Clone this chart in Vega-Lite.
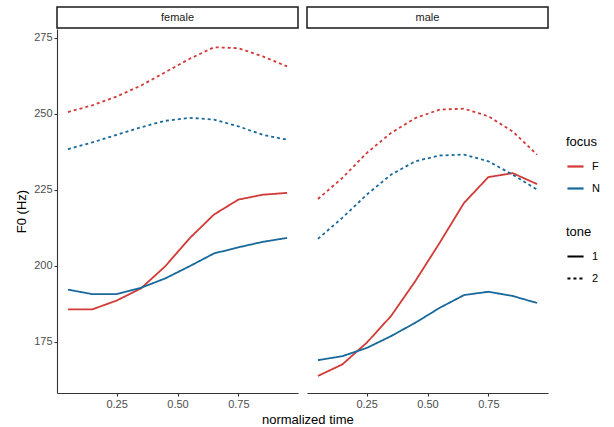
{
  "$schema": "https://vega.github.io/schema/vega-lite/v6.json",
  "padding": {"left": 15, "top": 6, "right": 5, "bottom": 2},
  "background": "white",
  "data": {"values": [
    {"sex":"female","focus":"F","tone":"1","time":0.05,"f0":185.6},
    {"sex":"female","focus":"F","tone":"1","time":0.15,"f0":185.6},
    {"sex":"female","focus":"F","tone":"1","time":0.25,"f0":188.5},
    {"sex":"female","focus":"F","tone":"1","time":0.35,"f0":192.5},
    {"sex":"female","focus":"F","tone":"1","time":0.45,"f0":199.8},
    {"sex":"female","focus":"F","tone":"1","time":0.55,"f0":209.0},
    {"sex":"female","focus":"F","tone":"1","time":0.65,"f0":216.8},
    {"sex":"female","focus":"F","tone":"1","time":0.75,"f0":221.7},
    {"sex":"female","focus":"F","tone":"1","time":0.85,"f0":223.3},
    {"sex":"female","focus":"F","tone":"1","time":0.95,"f0":223.9},
    {"sex":"female","focus":"N","tone":"1","time":0.05,"f0":192.1},
    {"sex":"female","focus":"N","tone":"1","time":0.15,"f0":190.6},
    {"sex":"female","focus":"N","tone":"1","time":0.25,"f0":190.6},
    {"sex":"female","focus":"N","tone":"1","time":0.35,"f0":192.7},
    {"sex":"female","focus":"N","tone":"1","time":0.45,"f0":195.8},
    {"sex":"female","focus":"N","tone":"1","time":0.55,"f0":199.8},
    {"sex":"female","focus":"N","tone":"1","time":0.65,"f0":204.0},
    {"sex":"female","focus":"N","tone":"1","time":0.75,"f0":206.0},
    {"sex":"female","focus":"N","tone":"1","time":0.85,"f0":207.8},
    {"sex":"female","focus":"N","tone":"1","time":0.95,"f0":209.1},
    {"sex":"female","focus":"F","tone":"2","time":0.05,"f0":250.5},
    {"sex":"female","focus":"F","tone":"2","time":0.15,"f0":252.7},
    {"sex":"female","focus":"F","tone":"2","time":0.25,"f0":255.6},
    {"sex":"female","focus":"F","tone":"2","time":0.35,"f0":259.2},
    {"sex":"female","focus":"F","tone":"2","time":0.45,"f0":263.6},
    {"sex":"female","focus":"F","tone":"2","time":0.55,"f0":268.0},
    {"sex":"female","focus":"F","tone":"2","time":0.65,"f0":271.8},
    {"sex":"female","focus":"F","tone":"2","time":0.75,"f0":271.5},
    {"sex":"female","focus":"F","tone":"2","time":0.85,"f0":268.8},
    {"sex":"female","focus":"F","tone":"2","time":0.95,"f0":265.5},
    {"sex":"female","focus":"N","tone":"2","time":0.05,"f0":238.3},
    {"sex":"female","focus":"N","tone":"2","time":0.15,"f0":240.5},
    {"sex":"female","focus":"N","tone":"2","time":0.25,"f0":243.0},
    {"sex":"female","focus":"N","tone":"2","time":0.35,"f0":245.5},
    {"sex":"female","focus":"N","tone":"2","time":0.45,"f0":247.6},
    {"sex":"female","focus":"N","tone":"2","time":0.55,"f0":248.6},
    {"sex":"female","focus":"N","tone":"2","time":0.65,"f0":248.0},
    {"sex":"female","focus":"N","tone":"2","time":0.75,"f0":245.8},
    {"sex":"female","focus":"N","tone":"2","time":0.85,"f0":243.0},
    {"sex":"female","focus":"N","tone":"2","time":0.95,"f0":241.4},
    {"sex":"male","focus":"F","tone":"1","time":0.05,"f0":163.7},
    {"sex":"male","focus":"F","tone":"1","time":0.15,"f0":167.5},
    {"sex":"male","focus":"F","tone":"1","time":0.25,"f0":174.6},
    {"sex":"male","focus":"F","tone":"1","time":0.35,"f0":183.4},
    {"sex":"male","focus":"F","tone":"1","time":0.45,"f0":194.9},
    {"sex":"male","focus":"F","tone":"1","time":0.55,"f0":207.5},
    {"sex":"male","focus":"F","tone":"1","time":0.65,"f0":220.6},
    {"sex":"male","focus":"F","tone":"1","time":0.75,"f0":229.1},
    {"sex":"male","focus":"F","tone":"1","time":0.85,"f0":230.4},
    {"sex":"male","focus":"F","tone":"1","time":0.95,"f0":226.8},
    {"sex":"male","focus":"N","tone":"1","time":0.05,"f0":168.9},
    {"sex":"male","focus":"N","tone":"1","time":0.15,"f0":170.2},
    {"sex":"male","focus":"N","tone":"1","time":0.25,"f0":172.9},
    {"sex":"male","focus":"N","tone":"1","time":0.35,"f0":176.8},
    {"sex":"male","focus":"N","tone":"1","time":0.45,"f0":181.2},
    {"sex":"male","focus":"N","tone":"1","time":0.55,"f0":186.1},
    {"sex":"male","focus":"N","tone":"1","time":0.65,"f0":190.3},
    {"sex":"male","focus":"N","tone":"1","time":0.75,"f0":191.4},
    {"sex":"male","focus":"N","tone":"1","time":0.85,"f0":190.0},
    {"sex":"male","focus":"N","tone":"1","time":0.95,"f0":187.7},
    {"sex":"male","focus":"F","tone":"2","time":0.05,"f0":221.9},
    {"sex":"male","focus":"F","tone":"2","time":0.15,"f0":228.8},
    {"sex":"male","focus":"F","tone":"2","time":0.25,"f0":237.0},
    {"sex":"male","focus":"F","tone":"2","time":0.35,"f0":243.6},
    {"sex":"male","focus":"F","tone":"2","time":0.45,"f0":248.5},
    {"sex":"male","focus":"F","tone":"2","time":0.55,"f0":251.3},
    {"sex":"male","focus":"F","tone":"2","time":0.65,"f0":251.6},
    {"sex":"male","focus":"F","tone":"2","time":0.75,"f0":249.1},
    {"sex":"male","focus":"F","tone":"2","time":0.85,"f0":244.1},
    {"sex":"male","focus":"F","tone":"2","time":0.95,"f0":236.5},
    {"sex":"male","focus":"N","tone":"2","time":0.05,"f0":208.8},
    {"sex":"male","focus":"N","tone":"2","time":0.15,"f0":215.7},
    {"sex":"male","focus":"N","tone":"2","time":0.25,"f0":223.3},
    {"sex":"male","focus":"N","tone":"2","time":0.35,"f0":229.9},
    {"sex":"male","focus":"N","tone":"2","time":0.45,"f0":234.3},
    {"sex":"male","focus":"N","tone":"2","time":0.55,"f0":236.2},
    {"sex":"male","focus":"N","tone":"2","time":0.65,"f0":236.5},
    {"sex":"male","focus":"N","tone":"2","time":0.75,"f0":234.3},
    {"sex":"male","focus":"N","tone":"2","time":0.85,"f0":229.9},
    {"sex":"male","focus":"N","tone":"2","time":0.95,"f0":225.0}
  ]},
  "title": {"text": "normalized time", "orient": "bottom", "anchor": "middle", "fontSize": 13, "fontWeight": "normal", "color": "#000000", "font": "Liberation Sans", "offset": 5},
  "spacing": 7,
  "hconcat": [
    {
      "spacing": 0,
      "vconcat": [
        {
          "data": {"values": [{"label": "female"}]},
          "width": 241, "height": 21,
          "view": {"stroke": "#1a1a1a", "strokeWidth": 1.5, "fill": "white"},
          "mark": {"type": "text", "fontSize": 11, "color": "#1a1a1a", "font": "Liberation Sans", "baseline": "middle", "align": "center"},
          "encoding": {"text": {"field": "label"}}
        },
        {
          "width": 241, "height": 364,
          "transform": [{"filter": "datum.sex == 'female'"}],
          "mark": {"type": "line", "strokeWidth": 1.8},
          "encoding": {
            "x": {"field": "time", "type": "quantitative", "scale": {"domain": [0.005, 0.995], "nice": false, "zero": false},
                  "axis": {"values": [0.25, 0.5, 0.75], "format": ".2f", "title": null}},
            "y": {"field": "f0", "type": "quantitative", "scale": {"domain": [158.1, 277.8], "nice": false, "zero": false},
                  "axis": {"values": [175, 200, 225, 250, 275], "title": "F0 (Hz)"}},
            "color": {"field": "focus", "type": "nominal", "scale": {"domain": ["F", "N"], "range": ["#d13a36", "#17699b"]}, "legend": {"title": "focus", "orient": "none", "legendX": 509, "legendY": 129}},
            "strokeDash": {"field": "tone", "type": "nominal", "scale": {"domain": ["1", "2"], "range": [[1, 0], [3, 3]]}, "legend": {"title": "tone", "orient": "none", "legendX": 509, "legendY": 219, "symbolStrokeColor": "#000000"}},
            "detail": {"field": "tone"}
          }
        }
      ]
    },
    {
      "spacing": 0,
      "vconcat": [
        {
          "data": {"values": [{"label": "male"}]},
          "width": 241, "height": 21,
          "view": {"stroke": "#1a1a1a", "strokeWidth": 1.5, "fill": "white"},
          "mark": {"type": "text", "fontSize": 11, "color": "#1a1a1a", "font": "Liberation Sans", "baseline": "middle", "align": "center"},
          "encoding": {"text": {"field": "label"}}
        },
        {
          "width": 241, "height": 364,
          "transform": [{"filter": "datum.sex == 'male'"}],
          "mark": {"type": "line", "strokeWidth": 1.8},
          "encoding": {
            "x": {"field": "time", "type": "quantitative", "scale": {"domain": [0.005, 0.995], "nice": false, "zero": false},
                  "axis": {"values": [0.25, 0.5, 0.75], "format": ".2f", "title": null}},
            "y": {"field": "f0", "type": "quantitative", "scale": {"domain": [158.1, 277.8], "nice": false, "zero": false}, "axis": null},
            "color": {"field": "focus", "type": "nominal", "scale": {"domain": ["F", "N"], "range": ["#d13a36", "#17699b"]}, "legend": {"title": "focus", "orient": "none", "legendX": 509, "legendY": 129}},
            "strokeDash": {"field": "tone", "type": "nominal", "scale": {"domain": ["1", "2"], "range": [[1, 0], [3, 3]]}, "legend": {"title": "tone", "orient": "none", "legendX": 509, "legendY": 219, "symbolStrokeColor": "#000000"}},
            "detail": {"field": "tone"}
          }
        }
      ]
    }
  ],
  "config": {
    "font": "Liberation Sans",
    "view": {"stroke": null},
    "concat": {"spacing": 7},
    "axis": {
      "grid": false,
      "domainColor": "#333333", "domainWidth": 1.1,
      "tickColor": "#333333", "tickSize": 3, "tickWidth": 1.1,
      "labelColor": "#4d4d4d", "labelFont": "Liberation Sans", "labelFontSize": 11, "labelPadding": 2,
      "titleFont": "Liberation Sans", "titleFontSize": 13, "titleFontWeight": "normal", "titleColor": "#000000", "titlePadding": 5
    },
    "legend": {
      "titleFont": "Liberation Sans", "titleFontSize": 13, "titleFontWeight": "normal", "titleColor": "#000000",
      "labelFont": "Liberation Sans", "labelFontSize": 11, "labelColor": "#000000", "labelOffset": 7,
      "symbolType": "stroke", "symbolSize": 260, "symbolStrokeWidth": 2.2,
      "rowPadding": 7, "titlePadding": 8
    }
  }
}
